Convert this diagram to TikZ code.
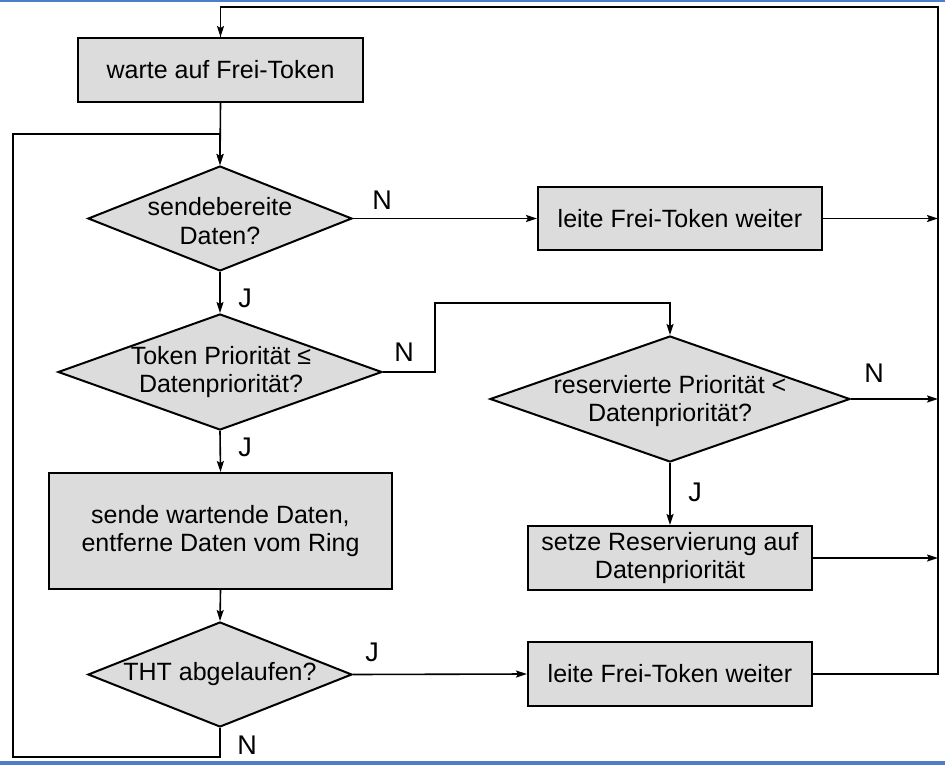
\documentclass[tikz,border=0pt]{standalone}
\usepackage{fontspec}
\setmainfont{Liberation Sans}
\usetikzlibrary{shapes.geometric,arrows.meta}

\definecolor{boxfill}{RGB}{220,220,220}
\definecolor{bandblue}{RGB}{80,125,200}

\tikzset{
  flow/.style={line width=1.6pt, draw=black},
  arr/.style={flow, -{Stealth[length=11pt,width=7pt,inset=2pt]}},
  stepbox/.style={draw=black, line width=2pt, fill=boxfill, rectangle,
    inner sep=0pt, align=center, font=\fontsize{25}{28.5}\selectfont},
  decision/.style={draw=black, line width=2pt, fill=boxfill, diamond,
    inner sep=0pt},
  dtext/.style={align=center, font=\fontsize{25}{28.5}\selectfont, inner sep=0pt},
  yn/.style={font=\fontsize{27}{30}\selectfont, inner sep=0pt}
}

\begin{document}
\begin{tikzpicture}[x=1pt, y=-1pt]
  \useasboundingbox (0,0) rectangle (945,765);
  % thin window bands at the top and bottom edge
  \fill[bandblue] (0,0) rectangle (945,2.5);
  \fill[bandblue] (0,761) rectangle (945,765);

  % process steps
  \node[stepbox, minimum width=285pt, minimum height=64pt] (wait) at (220.5,70) {warte auf Frei-Token};
  \node[stepbox, minimum width=284pt, minimum height=63pt] (pass1) at (680,218.5) {leite Frei-Token weiter};
  \node[stepbox, minimum width=343pt, minimum height=116pt] (send) at (220.5,531) {sende wartende Daten,\\entferne Daten vom Ring};
  \node[stepbox, minimum width=284pt, minimum height=64pt] (reserve) at (670,558) {setze Reservierung auf\\Datenpriorität};
  \node[stepbox, minimum width=284pt, minimum height=64pt] (pass2) at (670,674) {leite Frei-Token weiter};

  % decisions
  \node[decision, minimum width=264pt, minimum height=105pt] (ready) at (220,218.5) {};
  \node[decision, minimum width=324pt, minimum height=116pt] (prio) at (220,372) {};
  \node[decision, minimum width=360pt, minimum height=126pt] (resv) at (670,399) {};
  \node[decision, minimum width=264pt, minimum height=105pt] (tht) at (220,674.5) {};

  \node[dtext] (readyT) at (220,221) {sendebereite\\Daten?};
  \node[dtext] (prioT) at (221,372) {Token Priorität ≤\\Datenpriorität?};
  \node[dtext] (resvT) at (670,401) {reservierte Priorität <\\Datenpriorität?};
  \node[dtext] (thtT) at (220,674) {THT abgelaufen?};

  % bus on the right and loop on the left
  \coordinate (busTop) at (938,7);
  \coordinate (busBot) at (938,674);
  \coordinate (loopBot) at (13,757);
  \coordinate (loopTop) at (13,134);
  \coordinate (join) at (220,134);
  \coordinate (kink) at (435,303);

  % main column
  \draw[arr] (wait.south) -- (ready.north);
  \draw[flow] (tht.south) |- (loopBot) -- (loopTop) -- (join);
  \draw[arr] (join) -- (ready.north);
  \draw[arr] (ready.south) -- (prio.north);
  \draw[arr] (prio.south) -- (send.north);
  \draw[arr] (send.south) -- (tht.north);

  % branches
  \draw[arr] (ready.east) -- (pass1.west);
  \draw[arr] (prio.east) -| (kink) -| (resv.north);
  \draw[arr] (resv.south) -- (reserve.north);
  \draw[arr] (tht.east) -- (pass2.west);

  % into the bus
  \draw[arr] (pass1.east) -- (pass1.east -| busTop);
  \draw[arr] (resv.east) -- (resv.east -| busTop);
  \draw[arr] (reserve.east) -- (reserve.east -| busTop);
  \draw[flow] (pass2.east) -- (busBot) -- (busTop) -| (wait.north);
  \draw[arr] (busTop -| wait.north) -- (wait.north);

  % answer labels
  \node[yn] (n1) at (382,200) {N};
  \node[yn] (j1) at (245,298) {J};
  \node[yn] (n2) at (404,352) {N};
  \node[yn] (j2) at (245,447) {J};
  \node[yn] (n3) at (874,373) {N};
  \node[yn] (j3) at (695,492) {J};
  \node[yn] (j4) at (372,652) {J};
  \node[yn] (n4) at (247,745) {N};
\end{tikzpicture}
\end{document}
